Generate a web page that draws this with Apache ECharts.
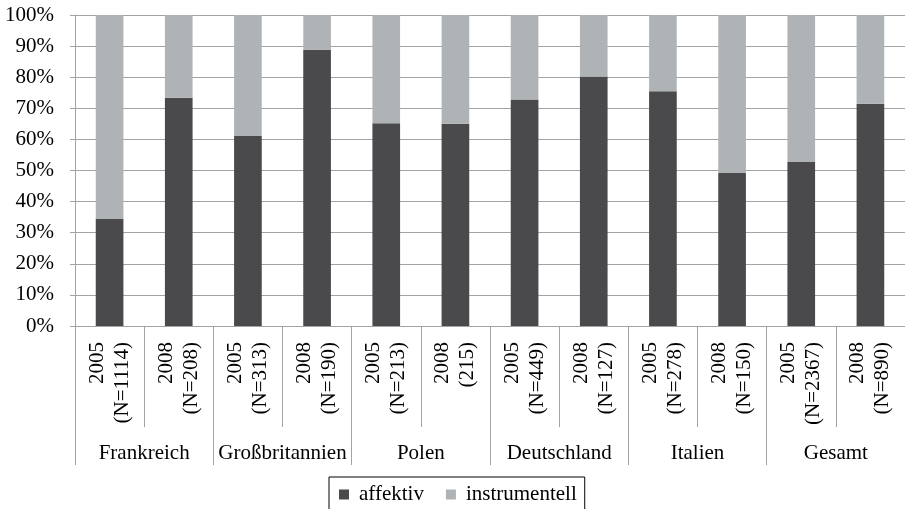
<!DOCTYPE html>
<html><head><meta charset="utf-8">
<script src="https://cdn.jsdelivr.net/npm/echarts@6/dist/echarts.min.js"></script>
<style>html,body{margin:0;padding:0;background:#fff}#c{width:905px;height:509px}</style>
</head><body><div id="c"></div>
<script>
var years = ['2005','2008','2005','2008','2005','2008','2005','2008','2005','2008','2005','2008'];
var nLabels = ['(N=1114)','(N=208)','(N=313)','(N=190)','(N=213)','(215)','(N=449)','(N=127)','(N=278)','(N=150)','(N=2367)','(N=890)'];
var groups = ['Frankreich','Großbritannien','Polen','Deutschland','Italien','Gesamt'];
var affektiv = [34.4, 73.4, 61.1, 88.8, 65.2, 65.0, 72.8, 80.2, 75.5, 49.2, 52.7, 71.5];
var instrumentell = [65.6, 26.6, 38.9, 11.2, 34.8, 35.0, 27.2, 19.8, 24.5, 50.8, 47.3, 28.5];
var yTicks = ['0%','10%','20%','30%','40%','50%','60%','70%','80%','90%','100%'];

var FONT = 'Liberation Serif';
var FS = 21;
var GRAY = '#a3a3a3';

var categories = years.map(function(y, i){ return y + '|' + nLabels[i]; });

// spacer tokens so the two lines of each rotated label are centred on each other
var ctx = document.createElement('canvas').getContext('2d');
ctx.font = FS + 'px "' + FONT + '"';
var rich = {a: {fontFamily: FONT, fontSize: FS, lineHeight: 25, color: '#000'}};
var spacer = years.map(function(y, i){
  var wy = ctx.measureText(y).width, wn = ctx.measureText(nLabels[i]).width;
  var d = Math.abs(wy - wn) / 2;
  rich['s' + i] = {width: Math.max(d, 0.1), fontFamily: FONT, fontSize: FS, lineHeight: 25};
  return wy < wn ? 0 : 1; // which line gets the spacer
});

var chart = echarts.init(document.getElementById('c'));
chart.setOption({
  animation: false,
  textStyle: {fontFamily: FONT},
  grid: {left: 75, right: 0, top: 15, bottom: 183},
  legend: {
    top: 477, left: 329,
    data: ['affektiv','instrumentell'],
    icon: 'rect', itemWidth: 10, itemHeight: 10, itemGap: 22,
    borderColor: '#000', borderWidth: 1, padding: [7, 8, 8, 10],
    textStyle: {fontFamily: FONT, fontSize: FS, color: '#000', padding: [0,0,0,5]}
  },
  xAxis: [{
    type: 'category', data: categories, position: 'bottom',
    axisLine: {lineStyle: {color: GRAY}},
    axisTick: {show: true, length: 101, interval: 0, lineStyle: {color: GRAY}},
    axisLabel: {
      interval: 0, rotate: 90, margin: 16, color: '#000', fontFamily: FONT, fontSize: FS,
      lineHeight: 25,
      formatter: function(v, idx){
        var p = v.split('|');
        var l1 = (spacer[idx] === 0 ? '{s' + idx + '| }' : '') + '{a|' + p[0] + '}';
        var l2 = (spacer[idx] === 1 ? '{s' + idx + '| }' : '') + '{a|' + p[1] + '}';
        return l1 + '\n' + l2;
      },
      rich: rich
    }
  }, {
    type: 'category', data: groups, position: 'bottom',
    axisLine: {show: false},
    axisTick: {show: true, length: 139, interval: 0, lineStyle: {color: GRAY}},
    axisLabel: {interval: 0, margin: 117, color: '#000', fontFamily: FONT, fontSize: FS}
  }],
  yAxis: {
    type: 'value', min: 0, max: 100, interval: 10,
    axisLine: {show: true, lineStyle: {color: GRAY}},
    axisTick: {show: true, length: 5, lineStyle: {color: GRAY}},
    splitLine: {lineStyle: {color: GRAY, width: 1}},
    axisLabel: {margin: 21, color: '#000', fontFamily: FONT, fontSize: FS,
      formatter: function(v){ return yTicks[Math.round(v/10)]; }}
  },
  series: [{
    name: 'affektiv', type: 'bar', stack: 's', data: affektiv, barWidth: '40%',
    itemStyle: {color: '#4a4a4c'}
  }, {
    name: 'instrumentell', type: 'bar', stack: 's', data: instrumentell, barWidth: '40%',
    itemStyle: {color: '#b0b3b5'}
  }]
});
</script></body></html>
